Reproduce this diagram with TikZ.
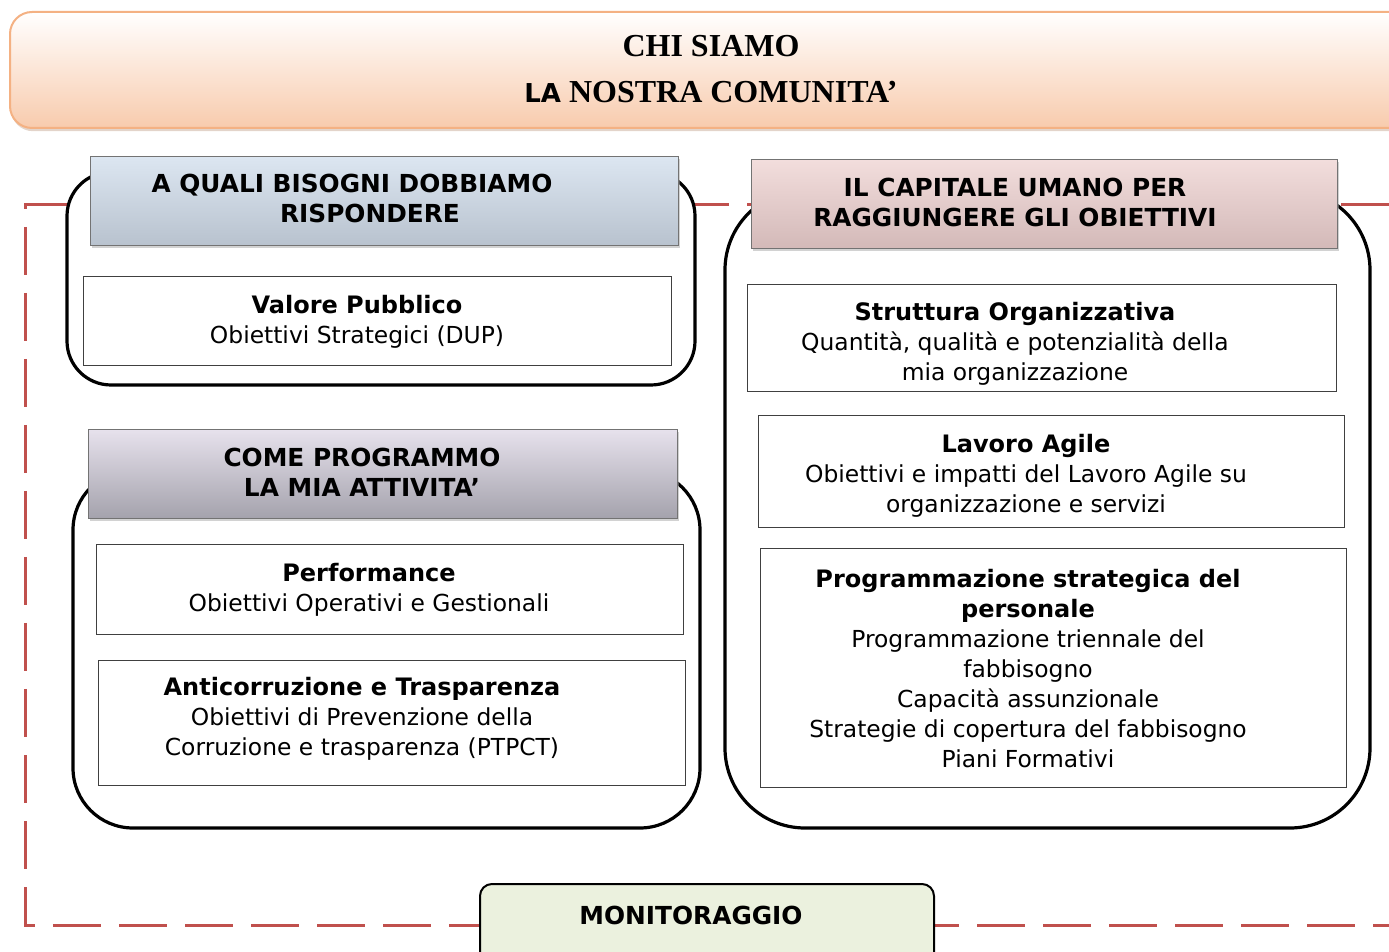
\documentclass[tikz,border=0pt]{standalone}
\usepackage{fontspec}
\setmainfont{DejaVu Sans}
\newfontfamily\titlefont{Liberation Serif}
\usetikzlibrary{shadows}
\definecolor{dashred}{HTML}{C0504D}
\definecolor{peach}{HTML}{F8CBAD}
\definecolor{peachline}{HTML}{F4B183}
\definecolor{bluetop}{HTML}{DCE6F1}
\definecolor{bluebot}{HTML}{B8C2CE}
\definecolor{lilactop}{HTML}{E6E1EC}
\definecolor{lilacbot}{HTML}{A4A2AC}
\definecolor{rosetop}{HTML}{F2DDDC}
\definecolor{rosebot}{HTML}{D3B9B8}
\definecolor{mongreen}{HTML}{EBF1DE}
\newcommand\hd[1]{{\fontsize{12}{15}\selectfont\bfseries #1}}

\begin{document}
\begin{tikzpicture}[x=0.5pt,y=-0.5pt,
  frame/.style={draw=black,line width=1.6pt,fill=white},
  head/.style={draw=black!55,line width=0.5pt,
    drop shadow={shadow xshift=0.8pt,shadow yshift=-0.8pt,fill=black!35}},
  item/.style={draw=black!75,line width=0.5pt,fill=white},
  txt/.style={align=center,inner sep=0pt,font=\fontsize{11.7}{15}\selectfont},
  htxt/.style={txt,font=\fontsize{12.4}{15}\selectfont\bfseries}]
\useasboundingbox (0,0) rectangle (1389,952);
% ================= banner =================
\draw[draw=peachline,line width=1pt,top color=white,bottom color=peach,rounded corners=11pt,
  drop shadow={shadow xshift=0.5pt,shadow yshift=-1.6pt,fill=peachline!70!black!65}]
  (10,12) rectangle (1420,128);
\node[align=center,inner sep=0pt,font=\fontsize{16}{23}\selectfont\titlefont\bfseries] (title) at (711,69)
  {CHI SIAMO\\{\fontsize{13}{23}\selectfont\rmfamily\bfseries LA} NOSTRA COMUNITA’};
% dashed frame round everything
\draw[dashred,line width=1.5pt,dash pattern=on 24pt off 9pt] (1389,205) -- (25,205) -- (25,925) -- (1389,925);
% ================= left column =================
\draw[frame,rounded corners=22pt] (67,172) rectangle (695,385);
\draw[frame,rounded corners=30pt] (73,470) rectangle (700,828);
\draw[head,top color=bluetop,bottom color=bluebot] (90,157) rectangle (678,246);
\node[htxt] (bisogni) at (370,198) {A QUALI BISOGNI DOBBIAMO\hspace*{18pt}\\RISPONDERE};
\draw[item] (83,277) rectangle (671,366);
\node[txt] (valore) at (357,322) {\hd{Valore Pubblico}\\Obiettivi Strategici (DUP)};
\draw[head,top color=lilactop,bottom color=lilacbot] (88,430) rectangle (677,519);
\node[htxt] (programmo) at (362,472) {COME PROGRAMMO\\LA MIA ATTIVITA’};
\draw[item] (96,545) rectangle (683,635);
\node[txt] (perf) at (369,590) {\hd{Performance}\\Obiettivi Operativi e Gestionali};
\draw[item] (98,660) rectangle (685,785);
\node[txt] (anticorr) at (362,719)
  {\hd{Anticorruzione e Trasparenza}\\Obiettivi di Prevenzione della\\Corruzione e trasparenza (PTPCT)};
% ================= right column =================
\draw[frame,rounded corners=40pt] (725,190) rectangle (1370,828);
\draw[head,top color=rosetop,bottom color=rosebot] (751,160) rectangle (1337,249);
\node[htxt] (capitale) at (1015,202) {IL CAPITALE UMANO PER\\RAGGIUNGERE GLI OBIETTIVI};
\draw[item] (747,285) rectangle (1336,392);
\node[txt] (struttura) at (1015,344)
  {\hd{Struttura Organizzativa}\\Quantità, qualità e potenzialità della\\mia organizzazione};
\draw[item] (758,416) rectangle (1344,528);
\node[txt] (agile) at (1026,476)
  {\hd{Lavoro Agile}\\Obiettivi e impatti del Lavoro Agile su\\organizzazione e servizi};
\draw[item] (760,549) rectangle (1346,787);
\node[txt] (personale) at (1028,669)
  {\hd{Programmazione strategica del}\\\hd{personale}\\Programmazione triennale del\\fabbisogno\\
   Capacità assunzionale\\Strategie di copertura del fabbisogno\\Piani Formativi};
% ================= monitoring =================
\draw[draw=black,line width=1pt,fill=mongreen,rounded corners=6pt] (480,884) rectangle (934,975);
\node[htxt] (monitor) at (691,915) {MONITORAGGIO};
\end{tikzpicture}
\end{document}
